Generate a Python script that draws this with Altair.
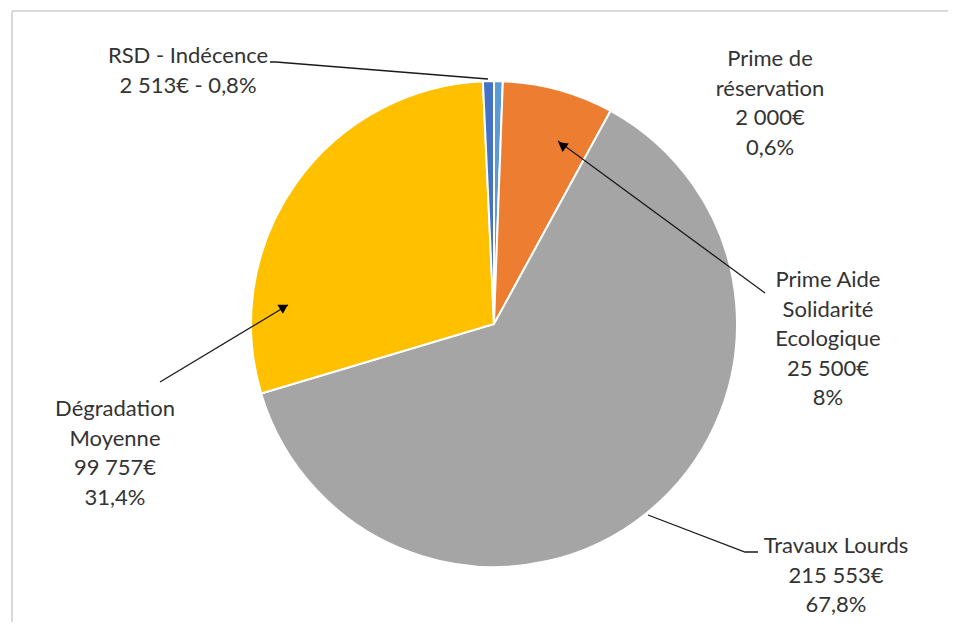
import altair as alt
import pandas as pd

# Slice data (clockwise from 12 o'clock)
names = ["Prime de réservation", "Prime Aide Solidarité Ecologique", "Travaux Lourds",
         "Dégradation Moyenne", "RSD - Indécence"]
values = [2000, 25500, 215553, 99757, 2513]
colors = ["#5B9BD5", "#ED7D31", "#A5A5A5", "#FFC000", "#4472C4"]

# Data labels (x = centre, y = first line)
label_texts = [
    "Prime de\nréservation\n2 000€\n0,6%",
    "Prime Aide\nSolidarité\nEcologique\n25 500€\n8%",
    "Travaux Lourds\n215 553€\n67,8%",
    "Dégradation\nMoyenne\n99 757€\n31,4%",
    "RSD - Indécence\n2 513€ - 0,8%",
]
label_x = [770, 828, 836, 115, 188]
label_y = [59, 280, 546, 409, 56]

# Leader lines (page pixel positions)
lead_id = [0, 0, 1, 1, 2, 2, 2, 3, 3, 3]
lead_x = [765, 558, 160, 288, 758, 745, 648, 270, 276, 488]
lead_y = [293, 141, 382, 305, 552, 552, 515, 62, 62, 79]
arrow_x = [562, 284]
arrow_y = [145, 307]
arrow_angle = [306, 59]

OFF = 8
W, H = 942, 614
CX, CY, R = 494 - OFF, 324 - OFF, 243

slices = pd.DataFrame({"name": names, "value": values, "idx": list(range(len(names)))})
labels = pd.DataFrame({"t": label_texts, "x": [v - OFF for v in label_x], "y": [v - OFF for v in label_y]})
leads = pd.DataFrame({"g": lead_id, "x": [v - OFF for v in lead_x], "y": [v - OFF for v in lead_y],
                      "o": list(range(len(lead_id)))})
arrows = pd.DataFrame({"x": [v - OFF for v in arrow_x], "y": [v - OFF for v in arrow_y], "a": arrow_angle})

xs = alt.Scale(domain=[0, W], nice=False, zero=False)
ys = alt.Scale(domain=[H, 0], nice=False, zero=False)

one = pd.DataFrame({"a": [0]})
top_border = alt.Chart(one).mark_rule(color="#d9d9d9", strokeWidth=2).encode(
    x=alt.value(12 - OFF), x2=alt.value(W - 2), y=alt.value(11 - OFF))
left_border = alt.Chart(one).mark_rule(color="#d9d9d9", strokeWidth=2).encode(
    x=alt.value(12 - OFF), y=alt.value(11 - OFF), y2=alt.value(H))

pie = alt.Chart(slices).mark_arc(outerRadius=R, stroke="white", strokeWidth=2).encode(
    theta=alt.Theta("value:Q", stack=True),
    color=alt.Color("name:N", scale=alt.Scale(domain=names, range=colors), legend=None),
    order=alt.Order("idx:Q"),
    x=alt.value(CX),
    y=alt.value(CY),
)

lines = alt.Chart(leads).mark_line(color="#1a1a1a", strokeWidth=1.3).encode(
    x=alt.X("x:Q", scale=xs, axis=None),
    y=alt.Y("y:Q", scale=ys, axis=None),
    detail="g:N",
    order="o:Q",
)

heads = alt.Chart(arrows).mark_point(shape="triangle-up", filled=True, color="#000000", size=110, opacity=1).encode(
    x=alt.X("x:Q", scale=xs, axis=None),
    y=alt.Y("y:Q", scale=ys, axis=None),
    angle=alt.Angle("a:Q", scale=None),
)

texts = alt.Chart(labels).mark_text(
    align="center", baseline="middle", fontSize=22, font="Lato", color="#333333",
    lineBreak="\n", lineHeight=29.5
).encode(
    x=alt.X("x:Q", scale=xs, axis=None),
    y=alt.Y("y:Q", scale=ys, axis=None),
    text="t:N",
)

chart = alt.layer(top_border, left_border, pie, lines, heads, texts).properties(
    width=W, height=H, padding=0, autosize=alt.AutoSizeParams(type="none"),
    background="white"
).configure_view(stroke="transparent", fill="white")

chart.save("out.html", embed_options={"renderer": "svg", "actions": False})
